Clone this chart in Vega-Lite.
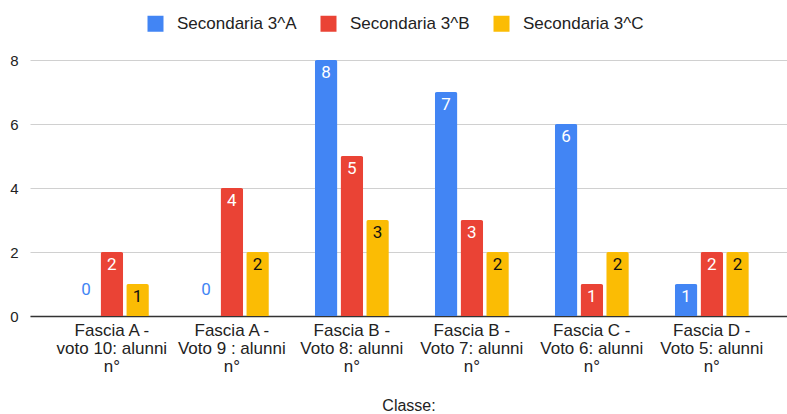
{
  "$schema": "https://vega.github.io/schema/vega-lite/v6.json",
  "width": 757,
  "height": 256,
  "autosize": {"type": "none"},
  "padding": {"left": 30, "top": 60, "right": 0, "bottom": 98},
  "background": "white",
  "config": {
    "view": {"stroke": null},
    "font": "Liberation Sans"
  },
  "data": {
    "values": [
      {"fascia": "Fascia A - voto 10: alunni n°", "classe": "Secondaria 3^A", "value": 0},
      {"fascia": "Fascia A - voto 10: alunni n°", "classe": "Secondaria 3^B", "value": 2},
      {"fascia": "Fascia A - voto 10: alunni n°", "classe": "Secondaria 3^C", "value": 1},
      {"fascia": "Fascia A - Voto 9 : alunni n°", "classe": "Secondaria 3^A", "value": 0},
      {"fascia": "Fascia A - Voto 9 : alunni n°", "classe": "Secondaria 3^B", "value": 4},
      {"fascia": "Fascia A - Voto 9 : alunni n°", "classe": "Secondaria 3^C", "value": 2},
      {"fascia": "Fascia B - Voto 8: alunni n°", "classe": "Secondaria 3^A", "value": 8},
      {"fascia": "Fascia B - Voto 8: alunni n°", "classe": "Secondaria 3^B", "value": 5},
      {"fascia": "Fascia B - Voto 8: alunni n°", "classe": "Secondaria 3^C", "value": 3},
      {"fascia": "Fascia B - Voto 7: alunni n°", "classe": "Secondaria 3^A", "value": 7},
      {"fascia": "Fascia B - Voto 7: alunni n°", "classe": "Secondaria 3^B", "value": 3},
      {"fascia": "Fascia B - Voto 7: alunni n°", "classe": "Secondaria 3^C", "value": 2},
      {"fascia": "Fascia C - Voto 6: alunni n°", "classe": "Secondaria 3^A", "value": 6},
      {"fascia": "Fascia C - Voto 6: alunni n°", "classe": "Secondaria 3^B", "value": 1},
      {"fascia": "Fascia C - Voto 6: alunni n°", "classe": "Secondaria 3^C", "value": 2},
      {"fascia": "Fascia D - Voto 5: alunni n°", "classe": "Secondaria 3^A", "value": 1},
      {"fascia": "Fascia D - Voto 5: alunni n°", "classe": "Secondaria 3^B", "value": 2},
      {"fascia": "Fascia D - Voto 5: alunni n°", "classe": "Secondaria 3^C", "value": 2}
    ]
  },
  "encoding": {
    "x": {
      "field": "fascia",
      "type": "nominal",
      "sort": null,
      "scale": {"paddingInner": 0.383, "paddingOuter": 0.346, "align": 0.54},
      "axis": {
        "title": "Classe:",
        "titleFontSize": 16,
        "titleFontWeight": "normal",
        "titleColor": "#222",
        "titlePadding": 23,
        "labelAngle": 0,
        "labelFontSize": 17,
        "labelColor": "#222",
        "labelLineHeight": 18,
        "labelPadding": 6,
        "labelLimit": 200,
        "ticks": false,
        "domainColor": "#333",
        "domainWidth": 1.5,
        "labelExpr": "[substring(datum.label,0,indexof(datum.label,'-')+1), substring(datum.label,indexof(datum.label,'-')+2,lastindexof(datum.label,' ')), substring(datum.label,lastindexof(datum.label,' ')+1)]"
      }
    },
    "xOffset": {
      "field": "classe",
      "type": "nominal",
      "scale": {"paddingInner": 0.12, "paddingOuter": 0}
    }
  },
  "layer": [
    {
      "mark": {"type": "bar", "cornerRadiusTopLeft": 2, "cornerRadiusTopRight": 2},
      "encoding": {
        "y": {
          "field": "value",
          "type": "quantitative",
          "scale": {"domain": [0, 8], "nice": false},
          "axis": {
            "title": null,
            "values": [0, 2, 4, 6, 8],
            "labelFontSize": 15,
            "labelColor": "#222",
            "labelPadding": 12,
            "ticks": false,
            "domain": false,
            "gridColor": "#d0d0d0",
            "gridWidth": 1
          }
        },
        "color": {
          "field": "classe",
          "type": "nominal",
          "scale": {"range": ["#4285F4", "#EA4335", "#FBBC04"]},
          "legend": {
            "title": null,
            "orient": "none",
            "direction": "horizontal",
            "legendX": 117,
            "legendY": -45,
            "symbolType": "square",
            "symbolSize": 256,
            "symbolStrokeWidth": 0,
            "labelFontSize": 17,
            "labelColor": "#222",
            "labelOffset": 13,
            "columnPadding": 23,
            "labelLimit": 250
          }
        }
      }
    },
    {
      "transform": [{"filter": "datum.value > 0"}],
      "mark": {"type": "text", "baseline": "top", "dy": 5, "fontSize": 17, "font": "Roboto"},
      "encoding": {
        "y": {"field": "value", "type": "quantitative"},
        "text": {"field": "value", "type": "quantitative"},
        "color": {
          "condition": {"test": "datum.classe == 'Secondaria 3^C'", "value": "#111"},
          "value": "#ffffff"
        }
      }
    },
    {
      "transform": [{"filter": "datum.value == 0"}],
      "mark": {"type": "text", "baseline": "alphabetic", "dy": -21, "fontSize": 17, "font": "Roboto", "color": "#4285F4"},
      "encoding": {
        "y": {"field": "value", "type": "quantitative"},
        "text": {"field": "value", "type": "quantitative"}
      }
    }
  ]
}
